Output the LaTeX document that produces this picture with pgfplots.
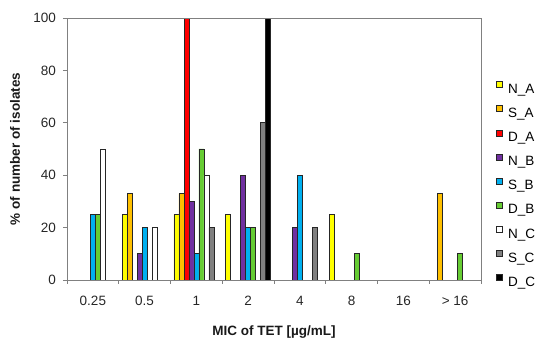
\documentclass[border=0pt]{standalone}
\usepackage{pgfplots}
\pgfplotsset{compat=1.18}
\usepackage{pgfplotstable}
\usepackage{fontspec}
\setmainfont{Liberation Sans}
\definecolor{cNA}{HTML}{FFFF00}
\definecolor{cSA}{HTML}{FFC000}
\definecolor{cDA}{HTML}{FF0000}
\definecolor{cNB}{HTML}{7030A0}
\definecolor{cSB}{HTML}{00B0F0}
\definecolor{cDB}{HTML}{66CC33}
\definecolor{cNC}{HTML}{FFFFFF}
\definecolor{cSC}{HTML}{808080}
\definecolor{cDC}{HTML}{000000}
\definecolor{axgray}{HTML}{808080}
% zero values written as nan so that no empty bar outline is drawn
\pgfplotstableread{
x NA SA DA NB SB DB NC SC DC
0 nan nan nan nan 25 25 50 nan nan
1 25 33 nan 10 20 nan 20 nan nan
2 25 33 100 30 10 50 40 20 nan
3 25 nan nan 40 20 20 nan 60 100
4 nan nan nan 20 40 nan nan 20 nan
5 25 nan nan nan nan 10 nan nan nan
6 nan nan nan nan nan nan nan nan nan
7 nan 33 nan nan nan 10 nan nan nan
}\datatable
\begin{document}
\begin{tikzpicture}[x=1pt,y=1pt]
\path[use as bounding box] (0,0) rectangle (550,342);
\begin{axis}[
  at={(67pt,62pt)}, anchor=south west,
  scale only axis, width=414pt, height=262pt,
  ybar=0pt, bar width=5pt,
  xmin=-0.5, xmax=7.5, ymin=0, ymax=100,
  xtick={0,...,7},
  xticklabels={0.25,0.5,1,2,4,8,16,{> 16}},
  minor xtick={-0.5,0.5,...,7.5},
  major x tick style={draw=none},
  ytick={0,20,...,100},
  tick align=outside, tick pos=left,
  major tick length=4pt, minor tick length=4pt,
  every tick/.style={axgray, line width=0.8pt},
  axis line style={axgray, line width=0.8pt},
  axis on top,
  unbounded coords=discard,
  /pgf/number format/assume math mode=true,
  tick label style={font=\fontsize{13.5}{16}\selectfont, text=black!85},
  xticklabel style={yshift=-8.5pt},
  yticklabel style={xshift=-3.5pt},
  ylabel={\textbf{\% of number of isolates}},
  xlabel={\textbf{MIC of TET [µg/mL]}},
  label style={font=\fontsize{13.5}{16}\selectfont, text=black!90},
  ylabel style={at={(axis description cs:-0.1256,0.5)}, anchor=center},
  xlabel style={at={(axis description cs:0.5,-0.2)}, anchor=center},
  legend style={at={(1.029,0.767)}, anchor=north west, draw=none,
    font=\fontsize{13.5}{16}\selectfont, row sep=8.7pt,
    nodes={inner sep=1pt, text height=9.5pt, text depth=2.5pt},
    /tikz/every odd column/.append style={column sep=4.5pt}},
  legend cell align=left,
  legend image code/.code={\draw[#1, line width=0.5pt] (0pt,2.2pt) rectangle (6pt,8.2pt);},
  every axis plot/.append style={draw=black!85, line width=0.6pt},
]
\addplot[fill=cNA] table[x=x,y=NA]{\datatable};
\addplot[fill=cSA] table[x=x,y=SA]{\datatable};
\addplot[fill=cDA] table[x=x,y=DA]{\datatable};
\addplot[fill=cNB] table[x=x,y=NB]{\datatable};
\addplot[fill=cSB] table[x=x,y=SB]{\datatable};
\addplot[fill=cDB] table[x=x,y=DB]{\datatable};
\addplot[fill=cNC] table[x=x,y=NC]{\datatable};
\addplot[fill=cSC] table[x=x,y=SC]{\datatable};
\addplot[fill=cDC] table[x=x,y=DC]{\datatable};
\legend{N\_A,S\_A,D\_A,N\_B,S\_B,D\_B,N\_C,S\_C,D\_C}
\end{axis}
\end{tikzpicture}
\end{document}
